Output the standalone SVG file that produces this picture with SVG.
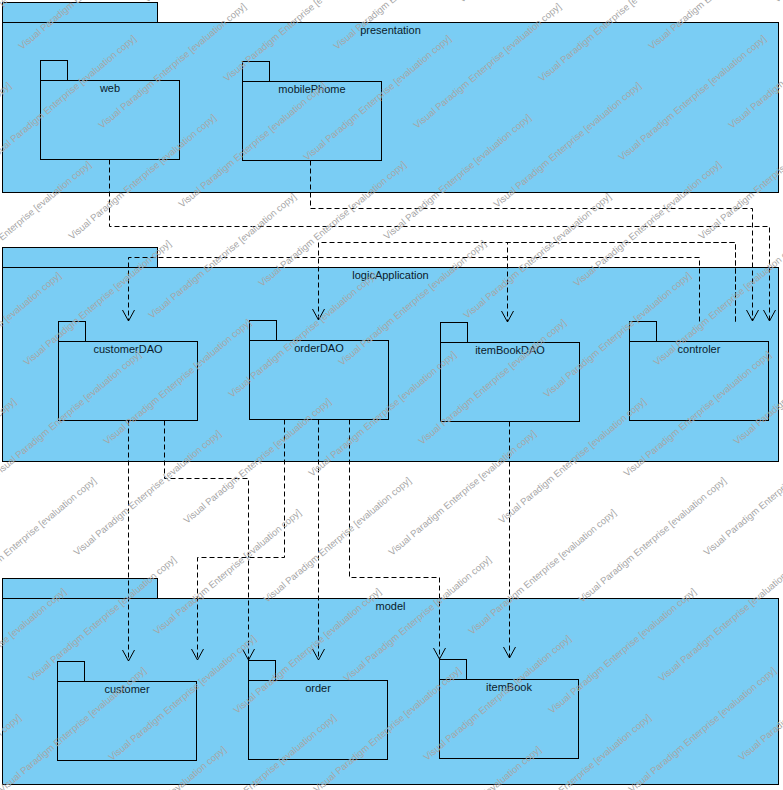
<svg xmlns="http://www.w3.org/2000/svg" width="783" height="790" viewBox="0 0 783 790">
<style>
.pkg{fill:#7acdf4;stroke:#000;stroke-width:1}
.lbl{font-family:"Liberation Sans",Arial,sans-serif;font-size:11px;fill:#0a1a2a;text-anchor:middle}
.dep{fill:none;stroke:#000;stroke-width:1;stroke-dasharray:5,3;marker-end:url(#open)}
.wm{font-family:"Liberation Sans",Arial,sans-serif;font-size:9.5px;fill:#a6a6a6}
</style>
<defs>
<marker id="open" markerUnits="userSpaceOnUse" markerWidth="14" markerHeight="14" viewBox="-12 -7 14 14" refX="0" refY="0" orient="auto">
<path d="M-11,-6 L0,0 L-11,6" fill="none" stroke="#000" stroke-width="1" stroke-dasharray="none"/>
</marker>
</defs>
<rect width="783" height="790" fill="#fff"/>
<g id="presentation">
<rect class="pkg" x="2.5" y="2.5" width="155" height="20"/>
<rect class="pkg" x="2.5" y="22.5" width="776" height="170"/>
<text class="lbl" x="390.5" y="34">presentation</text>
</g>
<g id="logicApplication">
<rect class="pkg" x="2.5" y="247.5" width="155" height="20"/>
<rect class="pkg" x="2.5" y="267.5" width="776" height="194"/>
<text class="lbl" x="390.5" y="279">logicApplication</text>
</g>
<g id="model">
<rect class="pkg" x="2.5" y="578.5" width="155" height="20"/>
<rect class="pkg" x="2.5" y="598.5" width="776" height="186"/>
<text class="lbl" x="390.5" y="610">model</text>
</g>
<g id="web">
<rect class="pkg" x="40.5" y="60.5" width="27" height="20"/>
<rect class="pkg" x="40.5" y="80.5" width="139" height="79"/>
<text class="lbl" x="110" y="92">web</text>
</g>
<g id="mobilePhome">
<rect class="pkg" x="242.5" y="61.5" width="27" height="20"/>
<rect class="pkg" x="242.5" y="81.5" width="139" height="79"/>
<text class="lbl" x="312" y="93">mobilePhome</text>
</g>
<g id="customerDAO">
<rect class="pkg" x="58.5" y="321.5" width="27" height="20"/>
<rect class="pkg" x="58.5" y="341.5" width="139" height="79"/>
<text class="lbl" x="128" y="353">customerDAO</text>
</g>
<g id="orderDAO">
<rect class="pkg" x="249.5" y="320.5" width="27" height="20"/>
<rect class="pkg" x="249.5" y="340.5" width="139" height="79"/>
<text class="lbl" x="319" y="352">orderDAO</text>
</g>
<g id="itemBookDAO">
<rect class="pkg" x="440.5" y="322.5" width="27" height="20"/>
<rect class="pkg" x="440.5" y="342.5" width="139" height="79"/>
<text class="lbl" x="510" y="354">itemBookDAO</text>
</g>
<g id="controler">
<rect class="pkg" x="629.5" y="321.5" width="27" height="20"/>
<rect class="pkg" x="629.5" y="341.5" width="139" height="79"/>
<text class="lbl" x="699" y="353">controler</text>
</g>
<g id="customer">
<rect class="pkg" x="57.5" y="661.5" width="27" height="20"/>
<rect class="pkg" x="57.5" y="681.5" width="139" height="79"/>
<text class="lbl" x="127" y="693">customer</text>
</g>
<g id="order">
<rect class="pkg" x="248.5" y="660.5" width="27" height="20"/>
<rect class="pkg" x="248.5" y="680.5" width="139" height="79"/>
<text class="lbl" x="318" y="692">order</text>
</g>
<g id="itemBook">
<rect class="pkg" x="439.5" y="659.5" width="27" height="20"/>
<rect class="pkg" x="439.5" y="679.5" width="139" height="79"/>
<text class="lbl" x="509" y="691">itemBook</text>
</g>
<g id="connectors">
<path class="dep" d="M109.5,159.5 V226.5 H769.5 V321"/>
<path class="dep" d="M310.5,160.5 V208.5 H752.5 V321"/>
<path class="dep" d="M699.5,321.5 V257.5 H128.5 V321"/>
<path class="dep" d="M735.5,321.5 V242.5 H318.5 V320"/>
<path class="dep" d="M735.5,321.5 V242.5 H507.5 V322"/>
<path class="dep" d="M128.5,420.5 V661"/>
<path class="dep" d="M164.5,420.5 V478.5 H248.5 V660"/>
<path class="dep" d="M284.5,419.5 V557.5 H197.5 V660"/>
<path class="dep" d="M318.5,419.5 V660"/>
<path class="dep" d="M349.5,419.5 V577.5 H439.5 V659"/>
<path class="dep" d="M509.5,421.5 V658"/>
</g>
<g id="watermark" class="wm">
<text transform="translate(22,50) rotate(-40)">Visual Paradigm Enterprise [evaluation copy]</text>
<text transform="translate(337,50) rotate(-40)">Visual Paradigm Enterprise [evaluation copy]</text>
<text transform="translate(652,50) rotate(-40)">Visual Paradigm Enterprise [evaluation copy]</text>
<text transform="translate(102,129) rotate(-40)">Visual Paradigm Enterprise [evaluation copy]</text>
<text transform="translate(417,129) rotate(-40)">Visual Paradigm Enterprise [evaluation copy]</text>
<text transform="translate(732,129) rotate(-40)">Visual Paradigm Enterprise [evaluation copy]</text>
<text transform="translate(-133,208) rotate(-40)">Visual Paradigm Enterprise [evaluation copy]</text>
<text transform="translate(182,208) rotate(-40)">Visual Paradigm Enterprise [evaluation copy]</text>
<text transform="translate(497,208) rotate(-40)">Visual Paradigm Enterprise [evaluation copy]</text>
<text transform="translate(-53,287) rotate(-40)">Visual Paradigm Enterprise [evaluation copy]</text>
<text transform="translate(262,287) rotate(-40)">Visual Paradigm Enterprise [evaluation copy]</text>
<text transform="translate(577,287) rotate(-40)">Visual Paradigm Enterprise [evaluation copy]</text>
<text transform="translate(27,366) rotate(-40)">Visual Paradigm Enterprise [evaluation copy]</text>
<text transform="translate(342,366) rotate(-40)">Visual Paradigm Enterprise [evaluation copy]</text>
<text transform="translate(657,366) rotate(-40)">Visual Paradigm Enterprise [evaluation copy]</text>
<text transform="translate(107,445) rotate(-40)">Visual Paradigm Enterprise [evaluation copy]</text>
<text transform="translate(422,445) rotate(-40)">Visual Paradigm Enterprise [evaluation copy]</text>
<text transform="translate(737,445) rotate(-40)">Visual Paradigm Enterprise [evaluation copy]</text>
<text transform="translate(-128,524) rotate(-40)">Visual Paradigm Enterprise [evaluation copy]</text>
<text transform="translate(187,524) rotate(-40)">Visual Paradigm Enterprise [evaluation copy]</text>
<text transform="translate(502,524) rotate(-40)">Visual Paradigm Enterprise [evaluation copy]</text>
<text transform="translate(-48,603) rotate(-40)">Visual Paradigm Enterprise [evaluation copy]</text>
<text transform="translate(267,603) rotate(-40)">Visual Paradigm Enterprise [evaluation copy]</text>
<text transform="translate(582,603) rotate(-40)">Visual Paradigm Enterprise [evaluation copy]</text>
<text transform="translate(32,682) rotate(-40)">Visual Paradigm Enterprise [evaluation copy]</text>
<text transform="translate(347,682) rotate(-40)">Visual Paradigm Enterprise [evaluation copy]</text>
<text transform="translate(662,682) rotate(-40)">Visual Paradigm Enterprise [evaluation copy]</text>
<text transform="translate(112,761) rotate(-40)">Visual Paradigm Enterprise [evaluation copy]</text>
<text transform="translate(427,761) rotate(-40)">Visual Paradigm Enterprise [evaluation copy]</text>
<text transform="translate(742,761) rotate(-40)">Visual Paradigm Enterprise [evaluation copy]</text>
<text transform="translate(-123,840) rotate(-40)">Visual Paradigm Enterprise [evaluation copy]</text>
<text transform="translate(192,840) rotate(-40)">Visual Paradigm Enterprise [evaluation copy]</text>
<text transform="translate(507,840) rotate(-40)">Visual Paradigm Enterprise [evaluation copy]</text>
<text transform="translate(147,3) rotate(-40)">Visual Paradigm Enterprise [evaluation copy]</text>
<text transform="translate(462,3) rotate(-40)">Visual Paradigm Enterprise [evaluation copy]</text>
<text transform="translate(777,3) rotate(-40)">Visual Paradigm Enterprise [evaluation copy]</text>
<text transform="translate(-88,82) rotate(-40)">Visual Paradigm Enterprise [evaluation copy]</text>
<text transform="translate(227,82) rotate(-40)">Visual Paradigm Enterprise [evaluation copy]</text>
<text transform="translate(542,82) rotate(-40)">Visual Paradigm Enterprise [evaluation copy]</text>
<text transform="translate(-8,161) rotate(-40)">Visual Paradigm Enterprise [evaluation copy]</text>
<text transform="translate(307,161) rotate(-40)">Visual Paradigm Enterprise [evaluation copy]</text>
<text transform="translate(622,161) rotate(-40)">Visual Paradigm Enterprise [evaluation copy]</text>
<text transform="translate(72,240) rotate(-40)">Visual Paradigm Enterprise [evaluation copy]</text>
<text transform="translate(387,240) rotate(-40)">Visual Paradigm Enterprise [evaluation copy]</text>
<text transform="translate(702,240) rotate(-40)">Visual Paradigm Enterprise [evaluation copy]</text>
<text transform="translate(152,319) rotate(-40)">Visual Paradigm Enterprise [evaluation copy]</text>
<text transform="translate(467,319) rotate(-40)">Visual Paradigm Enterprise [evaluation copy]</text>
<text transform="translate(-83,398) rotate(-40)">Visual Paradigm Enterprise [evaluation copy]</text>
<text transform="translate(232,398) rotate(-40)">Visual Paradigm Enterprise [evaluation copy]</text>
<text transform="translate(547,398) rotate(-40)">Visual Paradigm Enterprise [evaluation copy]</text>
<text transform="translate(-3,477) rotate(-40)">Visual Paradigm Enterprise [evaluation copy]</text>
<text transform="translate(312,477) rotate(-40)">Visual Paradigm Enterprise [evaluation copy]</text>
<text transform="translate(627,477) rotate(-40)">Visual Paradigm Enterprise [evaluation copy]</text>
<text transform="translate(77,556) rotate(-40)">Visual Paradigm Enterprise [evaluation copy]</text>
<text transform="translate(392,556) rotate(-40)">Visual Paradigm Enterprise [evaluation copy]</text>
<text transform="translate(707,556) rotate(-40)">Visual Paradigm Enterprise [evaluation copy]</text>
<text transform="translate(157,635) rotate(-40)">Visual Paradigm Enterprise [evaluation copy]</text>
<text transform="translate(472,635) rotate(-40)">Visual Paradigm Enterprise [evaluation copy]</text>
<text transform="translate(-78,714) rotate(-40)">Visual Paradigm Enterprise [evaluation copy]</text>
<text transform="translate(237,714) rotate(-40)">Visual Paradigm Enterprise [evaluation copy]</text>
<text transform="translate(552,714) rotate(-40)">Visual Paradigm Enterprise [evaluation copy]</text>
<text transform="translate(2,793) rotate(-40)">Visual Paradigm Enterprise [evaluation copy]</text>
<text transform="translate(317,793) rotate(-40)">Visual Paradigm Enterprise [evaluation copy]</text>
<text transform="translate(632,793) rotate(-40)">Visual Paradigm Enterprise [evaluation copy]</text>
<text transform="translate(82,872) rotate(-40)">Visual Paradigm Enterprise [evaluation copy]</text>
<text transform="translate(397,872) rotate(-40)">Visual Paradigm Enterprise [evaluation copy]</text>
<text transform="translate(712,872) rotate(-40)">Visual Paradigm Enterprise [evaluation copy]</text>
</g>
</svg>
